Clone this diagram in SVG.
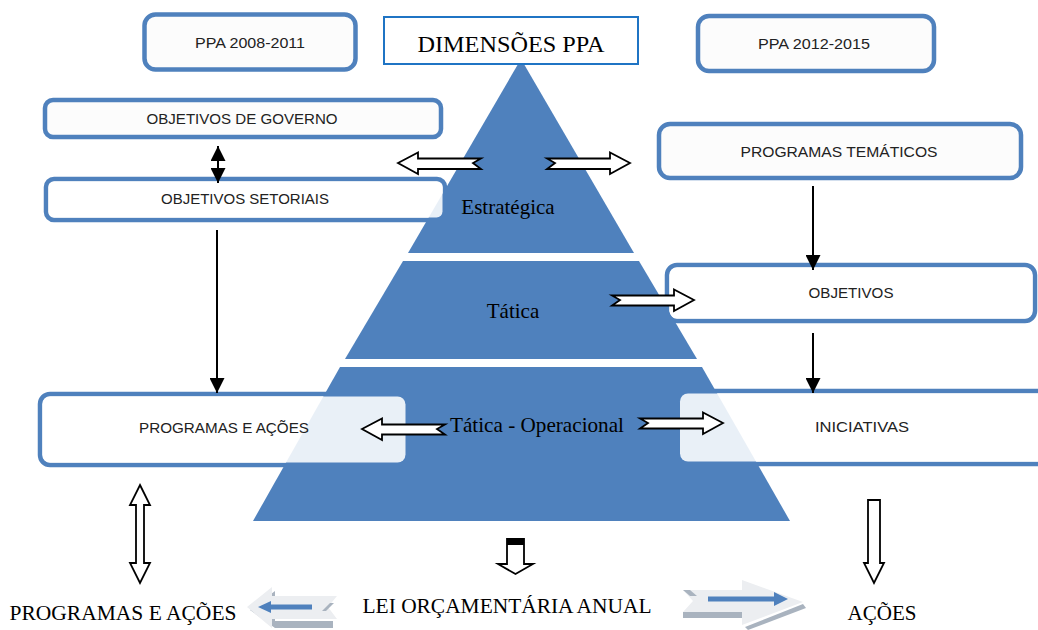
<svg xmlns="http://www.w3.org/2000/svg" width="1038" height="630" viewBox="0 0 1038 630">
<defs>
<style>
.box{fill:#fcfcfc;stroke:#4F81BD;stroke-width:4.5}
.ov{fill:#ffffff;fill-opacity:0.88}
.lbl{font-family:"Liberation Sans",Arial,sans-serif;font-size:15.5px;fill:#222222;text-anchor:middle}
.tt{font-family:"Liberation Serif","Times New Roman",serif;fill:#000;text-anchor:middle}
.pyr{fill:#4F81BD}
.blk{fill:#ffffff;stroke:#000;stroke-width:1.8;stroke-linejoin:miter}
.ln{stroke:#000;stroke-width:2;fill:none}
</style>
<marker id="ahb" viewBox="0 0 10 10" refX="10" refY="5" markerWidth="15" markerHeight="15" markerUnits="userSpaceOnUse" orient="auto-start-reverse">
<path d="M0,0 L10,5 L0,10 z" fill="#000"/>
</marker>
</defs>

<!-- box borders behind pyramid -->
<g id="box-setoriais-border"><rect class="box" x="46" y="179" width="399" height="41" rx="8"/></g>
<g id="box-progacoes-border"><rect class="box" x="40" y="394" width="364" height="71" rx="10"/></g>
<g id="box-iniciativas-border"><rect class="box" x="682" y="391" width="380" height="73" rx="10"/></g>
<g id="box-objetivos-border"><rect class="box" x="667" y="265" width="368" height="56" rx="10"/></g>

<!-- pyramid -->
<g id="pyramid">
<polygon class="pyr" points="521,59 634,253 408,253"/>
<polygon class="pyr" points="403,261 639,261 697,359 345,359"/>
<polygon class="pyr" points="340,367 702,367 790,521 253,521"/>
</g>

<g id="box-ppa2008"><rect class="box" x="144.5" y="14.5" width="211" height="55" rx="11"/>
<text class="lbl" x="250" y="48" textLength="110" lengthAdjust="spacingAndGlyphs">PPA 2008-2011</text></g>
<g id="box-ppa2012"><rect class="box" x="698" y="16" width="236" height="55" rx="11"/>
<text class="lbl" x="814" y="49" textLength="112" lengthAdjust="spacingAndGlyphs">PPA 2012-2015</text></g>
<g id="box-dimensoes"><rect x="384" y="17" width="254" height="47" fill="#fff" stroke="#1F74C4" stroke-width="2"/>
<text class="tt" x="511" y="52" font-size="24" textLength="187" lengthAdjust="spacingAndGlyphs">DIMENSÕES PPA</text></g>
<g id="box-governo"><rect class="box" x="45" y="100" width="396" height="37" rx="8"/>
<text class="lbl" x="242" y="124" textLength="191" lengthAdjust="spacingAndGlyphs">OBJETIVOS DE GOVERNO</text></g>
<g id="box-setoriais"><rect class="ov" x="48.5" y="181.5" width="394" height="36" rx="6"/>
<text class="lbl" x="245" y="204" textLength="168" lengthAdjust="spacingAndGlyphs">OBJETIVOS SETORIAIS</text></g>
<g id="box-tematicos"><rect class="box" x="659" y="124" width="362" height="54" rx="11"/>
<text class="lbl" x="839" y="157" textLength="197" lengthAdjust="spacingAndGlyphs">PROGRAMAS TEMÁTICOS</text></g>
<g id="box-objetivos"><rect class="ov" x="669.5" y="267.5" width="363" height="51" rx="8"/>
<text class="lbl" x="851" y="298" textLength="85" lengthAdjust="spacingAndGlyphs">OBJETIVOS</text></g>
<g id="box-progacoes"><rect class="ov" x="42.5" y="396.5" width="363" height="66" rx="8"/>
<text class="lbl" x="224" y="433" textLength="170" lengthAdjust="spacingAndGlyphs">PROGRAMAS E AÇÕES</text></g>
<g id="box-iniciativas"><rect class="ov" x="680" y="393.5" width="380" height="68" rx="8"/>
<text class="lbl" x="862" y="432" textLength="94" lengthAdjust="spacingAndGlyphs">INICIATIVAS</text></g>

<g id="pyramid-labels">
<text class="tt" x="508" y="214" font-size="21">Estratégica</text>
<text class="tt" x="513" y="318" font-size="21">Tática</text>
<text class="tt" x="537" y="432" font-size="21" textLength="174" lengthAdjust="spacingAndGlyphs">Tática - Operacional</text>
</g>

<g id="bottom-labels">
<text class="tt" x="123" y="620" font-size="21" textLength="227" lengthAdjust="spacingAndGlyphs">PROGRAMAS E AÇÕES</text>
<text class="tt" x="507" y="613" font-size="21" textLength="289" lengthAdjust="spacingAndGlyphs">LEI ORÇAMENTÁRIA ANUAL</text>
<text class="tt" x="882" y="620" font-size="21" textLength="69" lengthAdjust="spacingAndGlyphs">AÇÕES</text>
</g>

<g id="connectors">
<line class="ln" x1="218" y1="146" x2="218" y2="183" stroke-width="2.5" marker-start="url(#ahb)" marker-end="url(#ahb)"/>
<line class="ln" x1="217" y1="230" x2="217" y2="393" marker-end="url(#ahb)"/>
<line class="ln" x1="813" y1="186" x2="813" y2="270" marker-end="url(#ahb)"/>
<line class="ln" x1="813" y1="333" x2="813" y2="393" marker-end="url(#ahb)"/>

<polygon class="blk" points="398,163 418,152.5 418,158.5 481,158.5 473,163 481,169 418,169 418,174"/>
<polygon class="blk" points="630,163 610,152.5 610,158.5 547,158.5 555,163 547,169 610,169 610,174"/>
<polygon class="blk" points="694,300 674,289.5 674,295.5 612,295.5 620,300 612,305.5 674,305.5 674,311"/>
<polygon class="blk" points="362,429 382,418.5 382,424.5 445,424.5 437,429 445,434.5 382,434.5 382,440"/>
<polygon class="blk" points="723,423 703,412.5 703,418.5 640,418.5 648,423 640,428.5 703,428.5 703,434"/>
<polygon class="blk" points="140,485 150,505 144,505 144,563 150,563 140,583 130,563 136,563 136,505 130,505"/>
<polygon class="blk" points="868,500 880,500 880,563 884,563 874,583 864,563 868,563"/>
<polygon class="blk" points="507,539 524,539 524,564 533,564 515.5,574 498,564 507,564"/>
<rect x="507" y="538" width="17" height="7" fill="#000"/>

<g id="arrow-left-3d">
<polygon points="250,610 275,591 275,621 333,621 333,628 275,628" fill="#a9b3bf"/>
<polygon points="247,607 272,587 272,596 337,596 328,607 337,619 272,619 272,628" fill="#eceef1"/>
<polygon points="322,611 330,603 334,603 326,611" fill="#a9b3bf"/>
<line x1="312" y1="607" x2="270" y2="607" stroke="#4F81BD" stroke-width="5"/>
<polygon points="258,607 271,601 271,613" fill="#4F81BD"/>
</g>
<g id="arrow-right-3d">
<polygon points="683,612 745,612 745,618 683,618" fill="#a9b3bf"/>
<polygon points="745,627 803,604 806,608 748,630" fill="#a9b3bf"/>
<polygon points="683,590 742,590 742,580 803,602 742,625 742,612 683,612 693,601" fill="#eceef1"/>
<polygon points="683,590 690,590 697,596 690,596" fill="#a9b3bf"/>
<line x1="708" y1="599" x2="776" y2="599" stroke="#4F81BD" stroke-width="5"/>
<polygon points="788,599 774,592 774,606" fill="#4F81BD"/>
</g>
</g>
</svg>
